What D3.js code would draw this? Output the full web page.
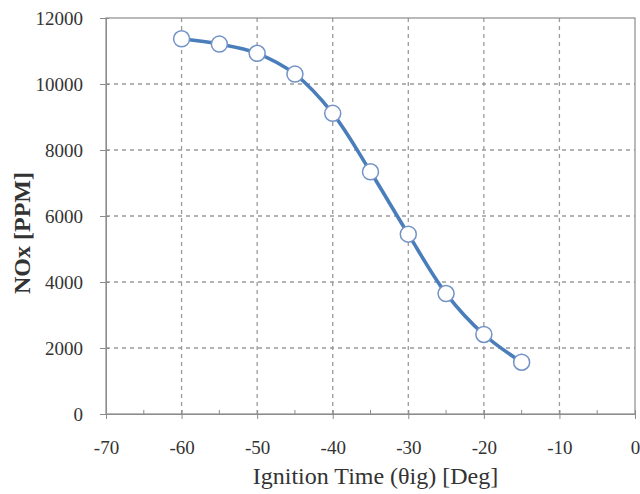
<!DOCTYPE html>
<html><head><meta charset="utf-8">
<script src="https://cdn.jsdelivr.net/npm/d3@7"></script>
<style>
html,body{margin:0;padding:0;background:#fff;}
</style></head>
<body>
<svg id="chart" width="640" height="494"></svg>
<script>
const ignitionDeg = [-60, -55, -50, -45, -40, -35, -30, -25, -20, -15];
const noxPPM = [11370, 11210, 10930, 10300, 9110, 7340, 5450, 3650, 2410, 1570];
const xTicks = [-70, -60, -50, -40, -30, -20, -10, 0];
const yTicks = [0, 2000, 4000, 6000, 8000, 10000, 12000];
const xTitle = "Ignition Time (θig) [Deg]";
const yTitle = "NOx [PPM]";

const FONT = '"Liberation Serif", "Times New Roman", serif';
const svg = d3.select("#chart");
const m = {left:106, right:5, top:18, bottom:80};
const W = 640, H = 494;
const x = d3.scaleLinear().domain([-70, 0]).range([m.left, W - m.right]);
const y = d3.scaleLinear().domain([0, 12000]).range([H - m.bottom, m.top]);

const gridColor = "#9a9a9a";
const axisColor = "#8c8c8c";
// gridlines
svg.append("g").selectAll("line").data(xTicks.filter(d => d > -70 && d < 0)).join("line")
  .attr("x1", d => x(d)).attr("x2", d => x(d)).attr("y1", y(0)).attr("y2", y(12000))
  .attr("stroke", gridColor).attr("stroke-width", 1.3).attr("stroke-dasharray", "4,4");
svg.append("g").selectAll("line").data(yTicks.filter(d => d > 0 && d < 12000)).join("line")
  .attr("x1", x(-70)).attr("x2", x(0)).attr("y1", d => y(d)).attr("y2", d => y(d))
  .attr("stroke", gridColor).attr("stroke-width", 1.3).attr("stroke-dasharray", "4,4");

// plot border
svg.append("rect").attr("x", x(-70)).attr("y", y(12000))
  .attr("width", x(0) - x(-70)).attr("height", y(0) - y(12000))
  .attr("fill", "none").attr("stroke", axisColor).attr("stroke-width", 1.2);

// axes
const yAxis = d3.axisLeft(y).tickValues(yTicks).tickSize(6).tickPadding(17).tickFormat(d => String(d));
const gy = svg.append("g").attr("transform", `translate(${x(-70)},0)`).call(yAxis);
gy.select(".domain").attr("stroke", axisColor);
gy.selectAll(".tick line").attr("stroke", axisColor).attr("x2", -6).attr("x1", 3);
gy.selectAll(".tick text").style("font-family", FONT).style("font-size", "19px").attr("fill", "#333");

const xAxis = d3.axisBottom(x).tickValues(xTicks).tickSize(5).tickPadding(22).tickFormat(d => String(d));
const gx = svg.append("g").attr("transform", `translate(0,${y(0)})`).call(xAxis);
gx.select(".domain").attr("stroke", axisColor);
gx.selectAll(".tick line").attr("stroke", axisColor).attr("y1", -4).attr("y2", 5);
gx.selectAll(".tick text").style("font-family", FONT).style("font-size", "19px").attr("fill", "#333");

// minor x ticks
const minor = d3.range(-65, 0, 10);
svg.append("g").selectAll("line").data(minor).join("line")
  .attr("x1", d => x(d)).attr("x2", d => x(d)).attr("y1", y(0) - 4).attr("y2", y(0))
  .attr("stroke", axisColor);

// titles
svg.append("text").attr("x", (x(-70) + x(0)) / 2 + 5).attr("y", 484)
  .attr("text-anchor", "middle").style("font-family", FONT).style("font-size", "24px")
  .attr("fill", "#333").text(xTitle);
svg.append("text").attr("transform", `translate(30,${(y(0)+y(12000))/2 + 17}) rotate(-90)`)
  .attr("text-anchor", "middle").style("font-family", FONT).style("font-size", "24px")
  .style("font-weight", "bold").attr("fill", "#333").text(yTitle);

// line
const pts = ignitionDeg.map((d, i) => [d, noxPPM[i]]);
const line = d3.line().x(d => x(d[0])).y(d => y(d[1])).curve(d3.curveCatmullRom.alpha(0.5));
svg.append("path").datum(pts).attr("d", line).attr("fill", "none")
  .attr("stroke", "#4a7ebb").attr("stroke-width", 3.6);

svg.append("g").selectAll("circle").data(pts).join("circle")
  .attr("cx", d => x(d[0])).attr("cy", d => y(d[1])).attr("r", 8)
  .attr("fill", "#fff").attr("stroke", "#7393c6").attr("stroke-width", 1.5);
</script>
</body></html>
